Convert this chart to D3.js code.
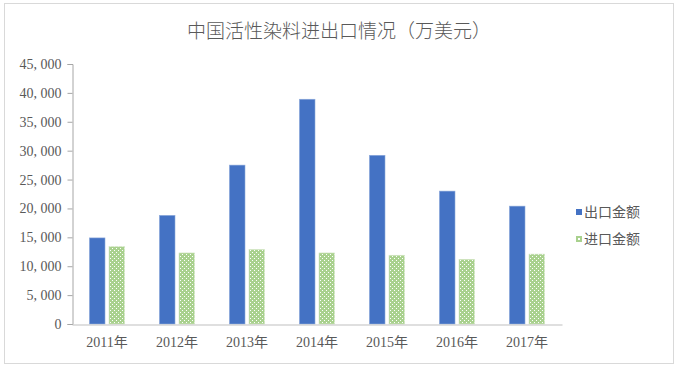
<!DOCTYPE html>
<html>
<head>
<meta charset="utf-8">
<script src="https://cdn.jsdelivr.net/npm/d3@7/dist/d3.min.js"></script>
<style>
html,body{margin:0;padding:0;background:#fff;}
svg{display:block;}
</style>
</head>
<body>
<svg id="chart" width="678" height="370"></svg>
<script>
const title = "中国活性染料进出口情况（万美元）";
const categories = ["2011年","2012年","2013年","2014年","2015年","2016年","2017年"];
const seriesNames = ["出口金额","进口金额"];
const exportValues = [14900, 18800, 27500, 38900, 29200, 23000, 20400];
const importValues = [13400, 12300, 12900, 12300, 11900, 11200, 12100];
const yTicks = [0,5000,10000,15000,20000,25000,30000,35000,40000,45000];
const yTickLabels = ["0","5, 000","10, 000","15, 000","20, 000","25, 000","30, 000","35, 000","40, 000","45, 000"];

(function(){
const svg = d3.select("#chart");
const textColor = "#595959";
const fontFam = "'Liberation Serif','Noto Sans CJK SC',serif";
const blue = "#4472C4", green = "#A9D18E";

const defs = svg.append("defs");
const pat = defs.append("pattern").attr("id","dots").attr("patternUnits","userSpaceOnUse")
  .attr("width",4).attr("height",4);
pat.append("rect").attr("width",4).attr("height",4).attr("fill",green);
pat.append("rect").attr("x",0).attr("y",0).attr("width",1).attr("height",1).attr("fill","#ffffff");
pat.append("rect").attr("x",2).attr("y",2).attr("width",1).attr("height",1).attr("fill","#ffffff");

svg.append("rect").attr("x",4.5).attr("y",3.5).attr("width",669).attr("height",360)
  .attr("fill","#fff").attr("stroke","#d9d9d9").attr("stroke-width",1);

svg.append("text").attr("x",339).attr("y",38).attr("text-anchor","middle")
  .attr("fill",textColor).attr("font-family","'Noto Sans CJK SC',sans-serif")
  .attr("font-size",19).attr("font-weight",300).text(title);

const pLeft = 72, pRight = 562, pTop = 64, pBottom = 324;
const x = d3.scaleBand().domain(categories).range([pLeft,pRight]).paddingInner(0).paddingOuter(0);
const y = d3.scaleLinear().domain([0,45000]).range([pBottom,pTop]);
const barW = 15.6, gap = 4;

const yAxis = d3.axisLeft(y).tickValues(yTicks).tickSize(5).tickPadding(6)
  .tickFormat((d,i)=>yTickLabels[i]);
const gy = svg.append("g").attr("transform",`translate(${pLeft+0.5},0)`).call(yAxis);
gy.select(".domain").attr("stroke","#a6a6a6");
gy.selectAll(".tick line").attr("stroke","#a6a6a6");
gy.selectAll(".tick text").attr("fill",textColor).attr("font-family",fontFam).attr("font-size",14);

const groupW = barW*2+gap;
categories.forEach((c,i)=>{
  const gx = x(c) + (x.bandwidth()-groupW)/2;
  svg.append("rect").attr("x",gx).attr("y",y(exportValues[i]))
    .attr("width",barW).attr("height",y(0)-y(exportValues[i]))
    .attr("fill",blue).attr("stroke","#8eaadb").attr("stroke-width",0.6);
  svg.append("rect").attr("x",gx+barW+gap).attr("y",y(importValues[i]))
    .attr("width",barW).attr("height",y(0)-y(importValues[i]))
    .attr("fill","url(#dots)").attr("stroke","#d6e8c8").attr("stroke-width",0.6);
});

const xAxis = d3.axisBottom(x).tickSize(0).tickPadding(13);
const gxa = svg.append("g").attr("transform",`translate(0,${pBottom+0.5})`).call(xAxis);
gxa.select(".domain").attr("stroke","#bfbfbf");
gxa.selectAll(".tick text").attr("fill",textColor).attr("font-family",fontFam).attr("font-size",14);

seriesNames.forEach((n,i)=>{
  const ly = 212 + i*27;
  svg.append("rect").attr("x",576).attr("y",ly-3).attr("width",6).attr("height",6).attr("fill",i===0?blue:green);
  if(i===1) svg.append("rect").attr("x",578).attr("y",ly-1).attr("width",2).attr("height",2).attr("fill","#fff");
  svg.append("text").attr("x",584).attr("y",ly+5).attr("fill",textColor)
    .attr("font-family","'Noto Sans CJK SC',sans-serif").attr("font-size",14).text(n);
});
})();
</script>
</body>
</html>
